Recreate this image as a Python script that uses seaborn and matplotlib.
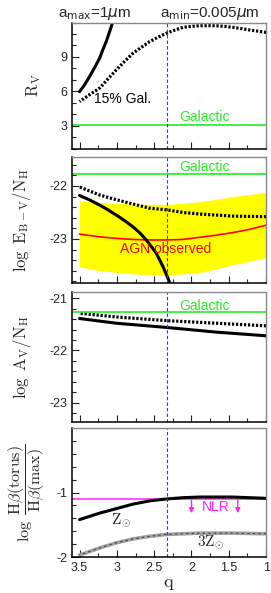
import matplotlib
matplotlib.use('Agg')
import matplotlib.pyplot as plt
import seaborn as sns
from matplotlib.ticker import MultipleLocator, FixedLocator, FuncFormatter

# --- data ---
q_rv_solid = [3.5, 3.43, 3.366, 3.30, 3.232, 3.19, 3.143, 3.10, 3.054, 3.03]
rv_solid = [5.98, 6.6, 7.29, 8.05, 8.88, 9.6, 10.33, 11.15, 12.07, 12.6]
q_rv_dot = [3.5, 3.37, 3.232, 3.12, 3.008, 2.9, 2.785, 2.67, 2.562, 2.45, 2.338, 2.22,
            2.115, 2.0, 1.891, 1.78, 1.668, 1.55, 1.445, 1.33, 1.221, 1.11, 1.0]
rv_dot = [5.12, 5.7, 6.28, 7.08, 7.87, 8.6, 9.32, 9.85, 10.33, 10.72, 11.06, 11.35,
          11.58, 11.67, 11.72, 11.73, 11.72, 11.66, 11.58, 11.47, 11.35, 11.25, 11.14]
rv_gal = 3.1

q_e_dot = [3.5, 3.232, 3.008, 2.785, 2.562, 2.338, 2.115, 1.891, 1.668, 1.445, 1.0]
e_dot = [-22.02, -22.17, -22.26, -22.34, -22.42, -22.45, -22.50, -22.53, -22.55, -22.57, -22.58]
q_e_solid = [3.5, 3.37, 3.232, 3.12, 3.008, 2.9, 2.785, 2.69, 2.606, 2.54, 2.472, 2.383, 2.316, 2.271]
e_solid = [-22.18, -22.26, -22.36, -22.45, -22.55, -22.65, -22.77, -22.89, -23.02, -23.14, -23.27, -23.52, -23.74, -23.9]
q_agn = [3.5, 3.232, 3.008, 2.785, 2.562, 2.338, 2.115, 1.891, 1.668, 1.445, 1.221, 1.0]
e_agn = [-22.91, -22.96, -22.99, -23.01, -23.02, -23.02, -23.01, -22.97, -22.93, -22.88, -22.82, -22.74]
q_band = [3.5, 3.232, 2.785, 2.338, 1.891, 1.445, 1.0]
band_hi = [-22.28, -22.31, -22.34, -22.35, -22.30, -22.20, -22.12]
band_lo = [-23.53, -23.60, -23.66, -23.68, -23.64, -23.49, -23.35]
e_gal = -21.77

q_a = [3.5, 3.008, 2.338, 1.668, 1.0]
a_dot = [-21.29, -21.36, -21.43, -21.48, -21.53]
a_solid = [-21.39, -21.48, -21.56, -21.65, -21.72]
a_gal = -21.27

q_h = [3.5, 3.232, 3.008, 2.785, 2.562, 2.338, 2.115, 1.891, 1.668, 1.445, 1.0]
h_sun = [-1.42, -1.32, -1.25, -1.18, -1.13, -1.10, -1.08, -1.07, -1.07, -1.07, -1.09]
h_3sun = [-1.97, -1.86, -1.78, -1.72, -1.68, -1.65, -1.64, -1.63, -1.63, -1.63, -1.64]
h_nlr = -1.10
nlr_arrows = [2.0, 1.38]

q_cut = 2.33
xticks = [3.5, 3, 2.5, 2, 1.5, 1]

sns.set_style("ticks")
plt.rcParams['font.family'] = ['Liberation Sans', 'DejaVu Sans']

fig = plt.figure(figsize=(2.71, 5.93), dpi=100)
L, W = 0.266, 0.716
ax1 = fig.add_axes([L, 0.749, W, 0.213])
ax2 = fig.add_axes([L, 0.523, W, 0.2125])
ax3 = fig.add_axes([L, 0.289, W, 0.218])
ax4 = fig.add_axes([L, 0.0607, W, 0.2175])
axes = [ax1, ax2, ax3, ax4]

green = '#22ee22'
dot = (0, (0.7, 0.55))

# panel 1: R_V
sns.lineplot(x=q_rv_solid, y=rv_solid, ax=ax1, color='black', lw=2.2, errorbar=None)
sns.lineplot(x=q_rv_dot, y=rv_dot, ax=ax1, color='black', lw=2.3, linestyle=dot, errorbar=None)
ax1.axhline(rv_gal, color=green, lw=1.2)
ax1.text(1.82, 3.75, 'Galactic', color=green, fontsize=10, ha='center', va='center')
ax1.text(2.92, 5.35, '15% Gal.', color='black', fontsize=10, ha='center', va='center')
ax1.set_ylim(1, 12)
ax1.yaxis.set_major_locator(FixedLocator([3, 6, 9]))
ax1.yaxis.set_minor_locator(MultipleLocator(1))
ax1.set_ylabel(r'$\mathrm{R_V}$', fontsize=12, math_fontfamily='cm')
ax1.yaxis.set_label_coords(-0.15, 0.5)

# panel 2: E(B-V)/N_H
ax2.fill_between(q_band, band_lo, band_hi, color='#ffff00', lw=0)
sns.lineplot(x=q_agn, y=e_agn, ax=ax2, color='red', lw=1.2, errorbar=None)
sns.lineplot(x=q_e_dot, y=e_dot, ax=ax2, color='black', lw=2.3, linestyle=dot, errorbar=None)
sns.lineplot(x=q_e_solid, y=e_solid, ax=ax2, color='black', lw=2.2, errorbar=None)
ax2.axhline(e_gal, color=green, lw=1.2)
ax2.text(1.82, -21.64, 'Galactic', color=green, fontsize=10, ha='center', va='center')
ax2.text(2.35, -23.19, 'AGN observed', color='red', fontsize=10, ha='center', va='center')
ax2.set_ylim(-23.83, -21.45)
ax2.yaxis.set_major_locator(FixedLocator([-22, -23]))
ax2.yaxis.set_minor_locator(MultipleLocator(0.2))
ax2.set_ylabel(r'$\log\ \mathrm{E_{B-V}/N_H}$', fontsize=12, math_fontfamily='cm')
ax2.yaxis.set_label_coords(-0.2, 0.5)

# panel 3: A_V/N_H
sns.lineplot(x=q_a, y=a_dot, ax=ax3, color='black', lw=2.3, linestyle=dot, errorbar=None)
sns.lineplot(x=q_a, y=a_solid, ax=ax3, color='black', lw=2.2, errorbar=None)
ax3.axhline(a_gal, color=green, lw=1.2)
ax3.text(1.82, -21.15, 'Galactic', color=green, fontsize=10, ha='center', va='center')
ax3.set_ylim(-23.36, -20.89)
ax3.yaxis.set_major_locator(FixedLocator([-21, -22, -23]))
ax3.yaxis.set_minor_locator(MultipleLocator(0.2))
ax3.set_ylabel(r'$\log\ \mathrm{A_V/N_H}$', fontsize=12, math_fontfamily='cm')
ax3.yaxis.set_label_coords(-0.2, 0.5)

# panel 4: Hbeta ratio
ax4.axhline(h_nlr, color='#ff55ff', lw=1.5)
sns.lineplot(x=q_h, y=h_3sun, ax=ax4, color='#a0a0a0', lw=2.6, errorbar=None)
sns.lineplot(x=q_h, y=h_3sun, ax=ax4, color='#404040', lw=0.8, linestyle=(0, (2, 3)), errorbar=None)
sns.lineplot(x=q_h, y=h_sun, ax=ax4, color='black', lw=2.2, errorbar=None)
for xa in nlr_arrows:
    ax4.annotate('', xy=(xa, -1.32), xytext=(xa, -1.12),
                 arrowprops=dict(arrowstyle='-|>', color='#ff22ff', lw=1.0,
                                 mutation_scale=7, shrinkA=0, shrinkB=0))
ax4.text(1.68, -1.23, 'NLR', color='#ff22ff', fontsize=10, ha='center', va='center')
ax4.text(2.95, -1.43, r'$\mathrm{Z_{\odot}}$', fontsize=11, ha='center', va='center',
         math_fontfamily='cm')
ax4.text(1.74, -1.77, r'$\mathrm{3Z_{\odot}}$', fontsize=11, ha='center', va='center',
         math_fontfamily='cm')
ax4.set_ylim(-2, 0)
ax4.yaxis.set_major_locator(FixedLocator([-1, -2]))
ax4.yaxis.set_minor_locator(MultipleLocator(0.2))
ax4.set_ylabel(r'$\log\ \dfrac{\mathrm{H}\beta(\mathrm{torus})}{\mathrm{H}\beta(\mathrm{max})}$',
               fontsize=11.5, math_fontfamily='cm')
ax4.yaxis.set_label_coords(-0.13, 0.5)
ax4.set_xlabel(r'$\mathrm{q}$', fontsize=13, math_fontfamily='cm', labelpad=1)

for ax in axes:
    ax.set_xlim(3.6, 1.0)
    ax.xaxis.set_major_locator(FixedLocator(xticks))
    ax.xaxis.set_minor_locator(MultipleLocator(0.25))
    ax.axvline(q_cut, color='#3030ff', lw=0.8, linestyle=(0, (3, 2)))
    ax.tick_params(which='both', direction='in', top=False, right=False,
                   labelsize=9, width=0.8, color='#222222')
    ax.tick_params(which='major', length=5)
    ax.tick_params(which='minor', length=3)
    ax.yaxis.set_major_formatter(FuncFormatter(lambda v, p: '%g' % v))
    for s in ['left', 'bottom']:
        ax.spines[s].set_color('black')
        ax.spines[s].set_linewidth(1.1)
    for s in ['top', 'right']:
        ax.spines[s].set_color('#888888')
        ax.spines[s].set_linewidth(1.0)
    if ax is not ax4:
        ax.tick_params(labelbottom=False)
ax4.xaxis.set_major_formatter(FuncFormatter(lambda v, p: '%g' % v))

fig.text(0.347, 0.978, r'a$_{\mathrm{max}}$=1$\mu$m', fontsize=11, ha='center', va='center',
         math_fontfamily='dejavusans')
fig.text(0.775, 0.978, r'a$_{\mathrm{min}}$=0.005$\mu$m', fontsize=11, ha='center', va='center',
         math_fontfamily='dejavusans')

fig.savefig('out.png', dpi=100)
